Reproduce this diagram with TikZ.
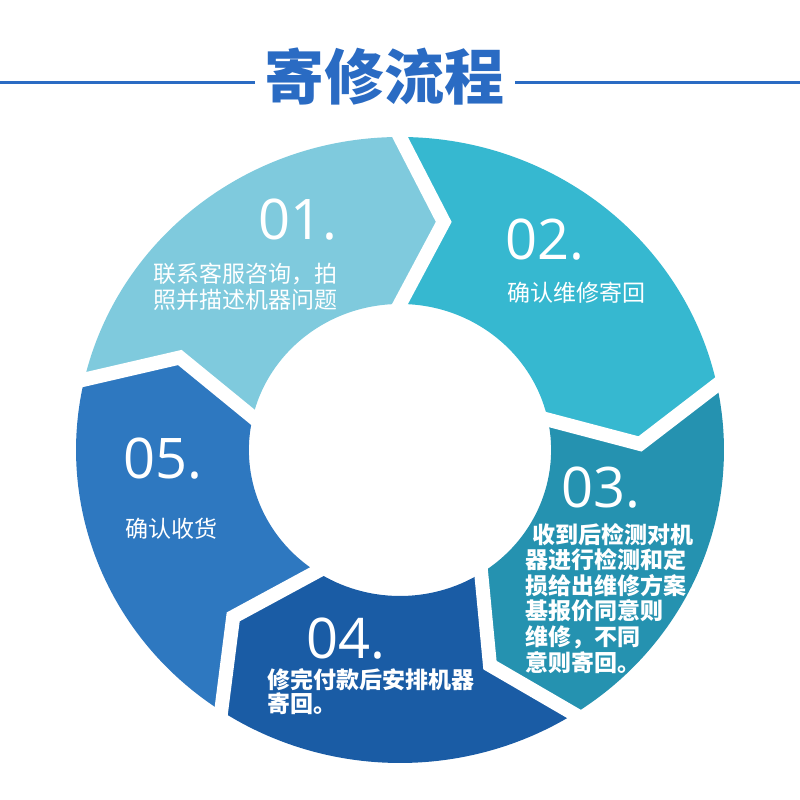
\documentclass[tikz,border=0pt]{standalone}
\usepackage{fontspec}
\setmainfont{Open Sans}
\newfontfamily\cjk{Noto Sans CJK SC}
\usepackage{xcolor}
\usetikzlibrary{positioning,calc}

\definecolor{titleblue}{RGB}{42,107,195}
\definecolor{stepone}{RGB}{127,202,221}
\definecolor{steptwo}{RGB}{54,184,208}
\definecolor{stepthree}{RGB}{37,146,176}
\definecolor{stepfour}{RGB}{26,92,165}
\definecolor{stepfive}{RGB}{46,120,192}

\begin{document}
\begin{tikzpicture}[x=1pt,y=1pt,
    num/.style={text=white,inner sep=0pt,anchor=base west,font=\fontsize{56}{56}\selectfont},
    txt/.style={text=white,inner sep=0pt,anchor=base west,align=left,font=\cjk\fontsize{23}{26}\selectfont},
    gap/.style={white,line width=14pt,line join=miter}]
  \useasboundingbox (-400,-350) rectangle (400,450);

  % title with rules
  \node[text=titleblue,inner sep=0pt,anchor=base,font=\cjk\bfseries\fontsize{60}{60}\selectfont] (title) at (-15,350) {寄修流程};
  \draw[titleblue,line width=3pt] (-400,367) -- (-145,367);
  \draw[titleblue,line width=3pt] (115,367) -- (400,367);

  % ring of arrows
  \begin{scope}[xscale=1.035]
    \foreach \a/\b/\c in {167/90/stepone,90/12/steptwo,12/-57.5/stepthree,-57.5/-123.5/stepfour,-123.5/-193/stepfive}
      \fill[\c] (\a:313) arc[start angle=\a,end angle=\b,radius=313] -- (\b-10.5:232)
        -- (\b:146) arc[start angle=\b,end angle=\a,radius=146] -- (\a-10.5:232) -- cycle;
    \foreach \a in {167,90,12,-57.5,-123.5}
      \draw[gap] ($(\a:313)!-0.15!(\a-10.5:232)$) -- (\a-10.5:232) -- ($(\a:146)!-0.2!(\a-10.5:232)$);
  \end{scope}

  % labels
  \node[num] (n1) at (-142,210) {01.};
  \node[txt] (t1) at (-247,141) {联系客服咨询，拍\\照并描述机器问题};
  \node[num] (n2) at (105,190) {02.};
  \node[txt] (t2) at (107,148) {确认维修寄回};
  \node[num] (n3) at (161,-57) {03.};
  \node[txt,font=\cjk\bfseries\fontsize{23}{25.6}\selectfont] (t3) at (125,-221)
    {\hspace*{7pt}收到后检测对机\\器进行检测和定\\损给出维修方案\\基报价同意则\\维修，不同\\意则寄回。};
  \node[num] (n4) at (-94,-208) {04.};
  \node[txt,font=\cjk\bfseries\fontsize{23}{23.5}\selectfont] (t4) at (-133,-262) {修完付款后安排机器\\寄回。};
  \node[num] (n5) at (-277,-28) {05.};
  \node[txt] (t5) at (-275,-87) {确认收货};
\end{tikzpicture}
\end{document}
